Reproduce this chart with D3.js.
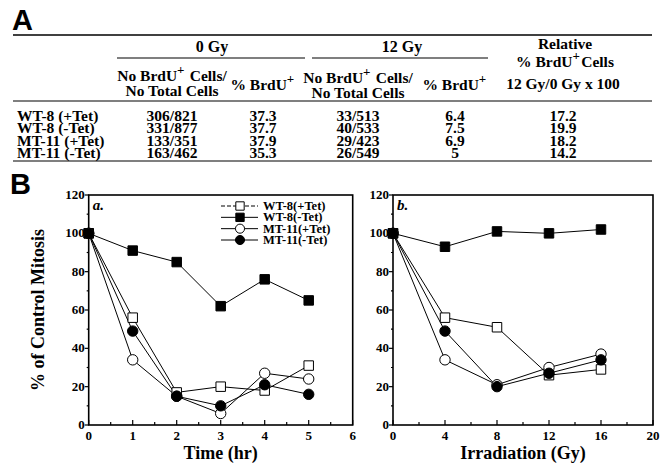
<!DOCTYPE html>
<html>
<head>
<style>
body { margin:0; background:#fff; }
svg text { font-family:"Liberation Serif","Times New Roman",Times,serif; font-weight:bold; fill:#000; }
</style>
</head>
<body></body>
<script src="https://cdn.jsdelivr.net/npm/d3@7"></script>
<script>

// table data (panel A)
var rowLabels = ["WT-8 (+Tet)", "WT-8 (-Tet)", "MT-11 (+Tet)", "MT-11 (-Tet)"];
var counts0 = ["306/821", "331/877", "133/351", "163/462"];
var pct0 = ["37.3", "37.7", "37.9", "35.3"];
var counts12 = ["33/513", "40/533", "29/423", "26/549"];
var pct12 = ["6.4", "7.5", "6.9", "5"];
var relative = ["17.2", "19.9", "18.2", "14.2"];

// graph data (panel B)
var seriesNames = ["WT-8(+Tet)", "WT-8(-Tet)", "MT-11(+Tet)", "MT-11(-Tet)"];
var timeHr = [0, 1, 2, 3, 4, 5];
var timeVals = [
  [100, 56, 17, 20, 18, 31],
  [100, 91, 85, 62, 76, 65],
  [100, 34, 15, 6, 27, 24],
  [100, 49, 15, 10, 21, 16]
];
var doseGy = [0, 4, 8, 12, 16];
var doseVals = [
  [100, 56, 51, 26, 29],
  [100, 93, 101, 100, 102],
  [100, 34, 21, 30, 37],
  [100, 49, 20, 27, 34]
];
var markerShape = ["square", "square", "circle", "circle"];
var markerFill = ["#fff", "#000", "#fff", "#000"];

var svg = d3.select("body").append("svg")
    .attr("width", 661).attr("height", 464);

// ---------- A : table ----------
svg.append("text").text("A")
    .attr("x", 12).attr("y", 30)
    .style("font-family", "'Liberation Sans',Arial,sans-serif")
    .style("font-size", "29px");

function rule(y, x1, x2, w) {
  svg.append("line").attr("x1", x1).attr("x2", x2).attr("y1", y).attr("y2", y)
     .attr("stroke", "#000").attr("stroke-width", w);
}
rule(35, 13, 652, 1.6);
rule(58, 117, 305, 1.2);
rule(58, 312, 488, 1.2);
rule(101, 13, 652, 1.2);
rule(161, 13, 652, 1.2);

var colX = [172, 263, 358, 455, 563];

function hdr(x, y, parts, size) {
  var t = svg.append("text").attr("x", x).attr("y", y)
      .attr("text-anchor", "middle").style("font-size", (size || 15.5) + "px");
  parts.forEach(function(p) {
    if (p.sup) {
      t.append("tspan").text(p.t).attr("dy", -7).style("font-size", "13px");
      t.append("tspan").text("\u200a").attr("dy", 7);
    } else {
      t.append("tspan").text(p.t);
    }
  });
}
hdr(212, 52, [{t:"0 Gy"}], 16);
hdr(402, 52, [{t:"12 Gy"}], 16);
hdr(565, 49, [{t:"Relative"}]);
hdr(565, 67, [{t:"% BrdU"}, {t:"+", sup:true}, {t:"Cells"}]);
hdr(colX[0], 81, [{t:"No BrdU"}, {t:"+", sup:true}, {t:" Cells/"}]);
hdr(colX[0], 96, [{t:"No Total Cells"}]);
hdr(colX[1], 90, [{t:"% BrdU"}, {t:"+", sup:true}]);
hdr(colX[2], 83, [{t:"No BrdU"}, {t:"+", sup:true}, {t:" Cells/"}]);
hdr(colX[2], 98, [{t:"No Total Cells"}]);
hdr(colX[3], 90, [{t:"% BrdU"}, {t:"+", sup:true}]);
hdr(colX[4], 89, [{t:"12 Gy/0 Gy x 100"}]);

var rowY = d3.scalePoint().domain(rowLabels).range([116, 153]);
var cols = [counts0, pct0, counts12, pct12, relative];
rowLabels.forEach(function(r, i) {
  svg.append("text").text(r).attr("x", 17).attr("y", rowY(r) + 5)
     .style("font-size", "15.5px");
  cols.forEach(function(c, j) {
    svg.append("text").text(c[i]).attr("x", colX[j]).attr("y", rowY(r) + 5)
       .attr("text-anchor", "middle").style("font-size", "15.5px");
  });
});

// ---------- B : graphs ----------
svg.append("text").text("B")
    .attr("x", 10).attr("y", 194)
    .style("font-family", "'Liberation Sans',Arial,sans-serif")
    .style("font-size", "29px");

var plotTop = 195, plotBottom = 425;
var y = d3.scaleLinear().domain([0, 120]).range([plotBottom, plotTop]);

function panel(left, right, xmax, xstep, xs, vals, title, tag) {
  var x = d3.scaleLinear().domain([0, xmax]).range([left, right]);
  var g = svg.append("g");

  g.append("rect").attr("x", left).attr("y", plotTop)
   .attr("width", right - left).attr("height", plotBottom - plotTop)
   .attr("fill", "none").attr("stroke", "#000").attr("stroke-width", 1.6);

  // x ticks (inward), minor at half step
  var xt = d3.range(0, xmax + 0.001, xstep / 2);
  g.selectAll(".xt").data(xt).enter().append("line")
   .attr("x1", function(d) { return x(d); }).attr("x2", function(d) { return x(d); })
   .attr("y1", plotBottom).attr("y2", function(d, i) { return plotBottom - (i % 2 ? 3 : 5); })
   .attr("stroke", "#000").attr("stroke-width", 1.2);
  g.selectAll(".xl").data(d3.range(0, xmax + 0.001, xstep)).enter().append("text")
   .text(function(d) { return d; })
   .attr("x", function(d) { return x(d); }).attr("y", plotBottom + 15)
   .attr("text-anchor", "middle").style("font-size", "13px");

  // y ticks
  var yt = d3.range(0, 121, 10);
  g.selectAll(".yt").data(yt).enter().append("line")
   .attr("x1", left).attr("x2", function(d, i) { return left - (i % 2 ? 2 : 4); })
   .attr("y1", function(d) { return y(d); }).attr("y2", function(d) { return y(d); })
   .attr("stroke", "#000").attr("stroke-width", 1.2);
  g.selectAll(".yl").data(d3.range(0, 121, 20)).enter().append("text")
   .text(function(d) { return d; })
   .attr("x", left - 4).attr("y", function(d) { return y(d) + 4; })
   .attr("text-anchor", "end").style("font-size", "13px");

  g.append("text").text(title)
   .attr("x", (left + right) / 2).attr("y", 459)
   .attr("text-anchor", "middle").style("font-size", "18px");
  g.append("text").text(tag)
   .attr("x", left + 4).attr("y", plotTop + 15)
   .style("font-style", "italic").style("font-size", "15px");

  var line = d3.line()
      .x(function(d, i) { return x(xs[i]); })
      .y(function(d) { return y(d); });

  vals.forEach(function(v, s) {
    g.append("path").attr("d", line(v))
     .attr("fill", "none").attr("stroke", "#000").attr("stroke-width", 1);
  });
  vals.forEach(function(v, s) {
    g.selectAll(".m" + s).data(v).enter().append("path")
     .attr("d", d3.symbol().type(markerShape[s] == "square" ? d3.symbolSquare : d3.symbolCircle)
          .size(markerShape[s] == "square" ? 90 : 85))
     .attr("transform", function(d, i) { return "translate(" + x(xs[i]) + "," + y(d) + ")"; })
     .attr("fill", markerFill[s]).attr("stroke", "#000").attr("stroke-width", 1);
  });
  return g;
}

var ga = panel(88.7, 352.7, 6, 1, timeHr, timeVals, "Time (hr)", "a.");
panel(393, 653, 20, 4, doseGy, doseVals, "Irradiation (Gy)", "b.");

svg.append("text").text("% of Control Mitosis")
   .attr("transform", "translate(44,310) rotate(-90)")
   .attr("text-anchor", "middle").style("font-size", "18px");

// legend inside panel a
var legY = d3.scalePoint().domain(seriesNames).range([206, 240]);
seriesNames.forEach(function(n, s) {
  var ly = legY(n);
  ga.append("line").attr("x1", 221).attr("x2", 258).attr("y1", ly).attr("y2", ly)
    .attr("stroke", "#000").attr("stroke-width", 1)
    .attr("stroke-dasharray", s == 0 ? "4,2" : null);
  ga.append("path")
    .attr("d", d3.symbol().type(markerShape[s] == "square" ? d3.symbolSquare : d3.symbolCircle)
         .size(markerShape[s] == "square" ? 70 : 65))
    .attr("transform", "translate(240," + ly + ")")
    .attr("fill", markerFill[s]).attr("stroke", "#000");
  ga.append("text").text(n).attr("x", 263).attr("y", ly + 4).style("font-size", "12.5px");
});

</script>
</html>
